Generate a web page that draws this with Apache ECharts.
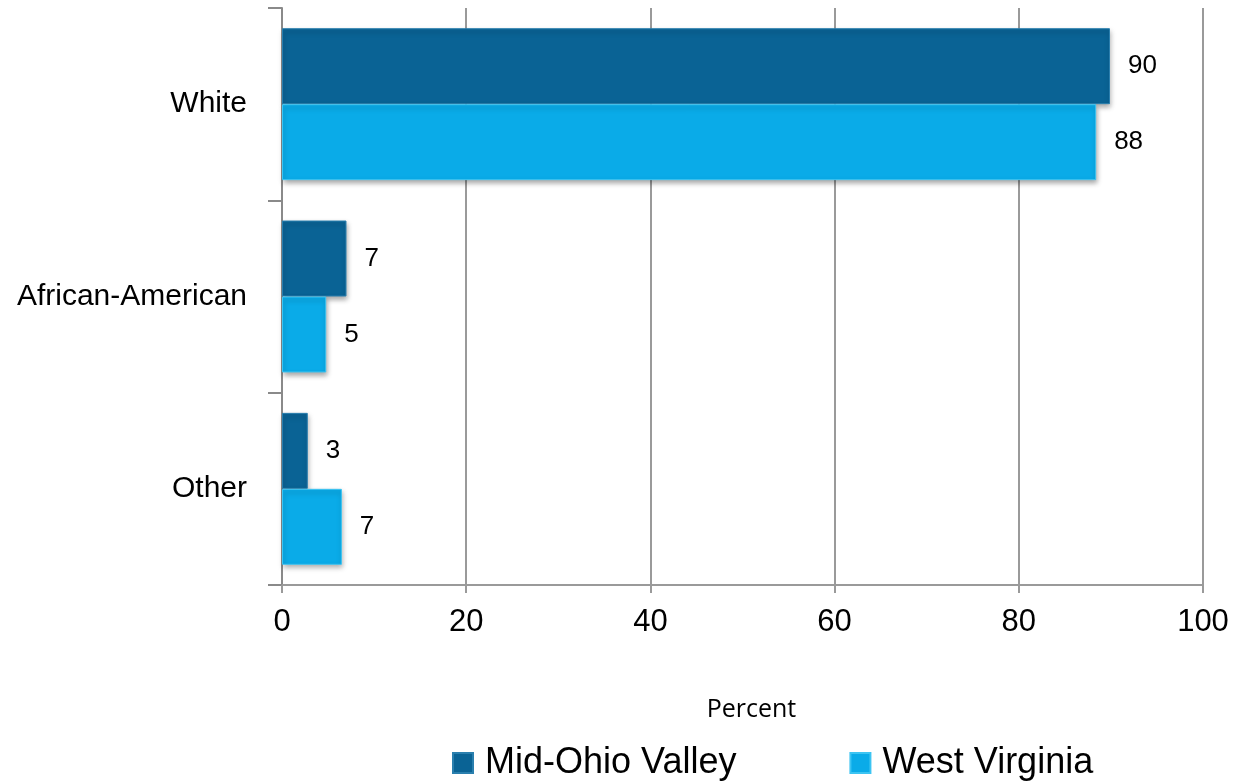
<!DOCTYPE html>
<html>
<head>
<meta charset="utf-8">
<script src="https://cdn.jsdelivr.net/npm/echarts@6/dist/echarts.min.js"></script>
<style>
html,body{margin:0;padding:0;background:#fff;}
#chart{width:1234px;height:782px;}
</style>
</head>
<body>
<div id="chart"></div>
<script>
const categories = ['White', 'African-American', 'Other'];
const seriesNames = ['Mid-Ohio Valley', 'West Virginia'];
const midOhioValley = [89.9, 7.0, 2.8];
const westVirginia = [88.4, 4.8, 6.5];
const xTicks = { min: 0, max: 100, interval: 20 };
const axisName = 'Percent';

const colors = ['#0a6395', '#0aabe8'];
const borders = ['#2a7fae', '#3cc4f2'];

function makeSeries(name, data, i) {
  return {
    name: name,
    type: 'bar',
    data: data,
    barGap: '0%',
    barCategoryGap: '21%',
    itemStyle: {
      color: colors[i],
      borderColor: borders[i],
      borderWidth: 1,
      shadowColor: 'rgba(0,0,0,0.35)',
      shadowBlur: 5,
      shadowOffsetX: 1,
      shadowOffsetY: 3
    },
    label: {
      show: true,
      position: 'right',
      distance: 18,
      color: '#000',
      fontFamily: 'Liberation Sans, Arial, sans-serif',
      fontSize: 26,
      formatter: p => Math.round(p.value)
    }
  };
}

const chart = echarts.init(document.getElementById('chart'));
chart.setOption({
  animation: false,
  backgroundColor: '#fff',
  grid: { left: 282, right: 31, top: 8, bottom: 197, containLabel: false },
  xAxis: {
    type: 'value',
    min: xTicks.min,
    max: xTicks.max,
    interval: xTicks.interval,
    name: axisName,
    nameLocation: 'middle',
    nameGap: 112,
    nameTextStyle: { fontFamily: 'Open Sans, sans-serif', fontSize: 25, color: '#000', padding: [0, 0, 0, 18] },
    axisLine: { show: true, lineStyle: { color: '#9a9a9a', width: 2 } },
    axisTick: { show: true, length: 8, lineStyle: { color: '#9a9a9a', width: 2 } },
    splitLine: { show: true, lineStyle: { color: '#9a9a9a', width: 2 } },
    axisLabel: { color: '#000', fontFamily: 'Liberation Sans, Arial, sans-serif', fontSize: 31, margin: 22 }
  },
  yAxis: {
    type: 'category',
    data: categories,
    inverse: true,
    axisLine: { show: true, lineStyle: { color: '#8a8a8a', width: 2 } },
    axisTick: { show: true, length: 14, lineStyle: { color: '#8a8a8a', width: 2 } },
    axisLabel: { color: '#000', fontFamily: 'Liberation Sans, Arial, sans-serif', fontSize: 30, margin: 35, padding: [4, 0, 0, 0] }
  },
  legend: {
    data: seriesNames,
    left: 447,
    top: 740,
    itemWidth: 20,
    itemHeight: 20,
    itemGap: 113,
    icon: 'rect',
    textStyle: { color: '#000', fontFamily: 'Liberation Sans, Arial, sans-serif', fontSize: 36, padding: [0, 0, 0, 7] }
  },
  series: [
    makeSeries(seriesNames[0], midOhioValley, 0),
    makeSeries(seriesNames[1], westVirginia, 1)
  ]
});
</script>
</body>
</html>
